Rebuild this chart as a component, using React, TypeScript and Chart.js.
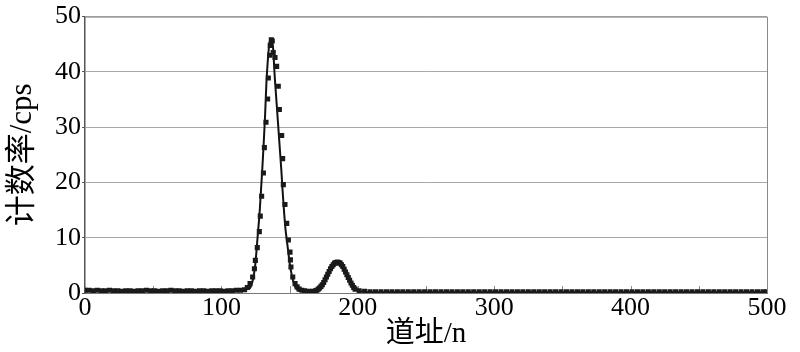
import React, { useEffect, useRef } from 'react';
import { Chart, registerables } from 'chart.js';

Chart.register(...registerables);

// ---- Axis ticks ----
const xTickValues = [0, 100, 200, 300, 400, 500];
const yTickValues = [0, 10, 20, 30, 40, 50];
const xMinorTickValues = [50, 150, 250, 350, 450];

// ---- Fitted curve (solid line) ----
const fitChannels = [0, 30, 60, 90, 110, 116, 119, 121, 122, 123, 124, 125, 126, 127, 128, 129, 130, 131, 132, 133, 134, 135, 136, 137, 138, 139, 140, 141, 142, 143, 144, 145, 146, 147, 148, 149, 150, 151, 152, 153, 154, 155, 156, 158, 161, 165, 169, 172, 174, 176, 178, 180, 182, 184, 186, 188, 190, 192, 194, 196, 198, 200, 204, 210, 250, 350, 500];
const fitCounts = [0.4, 0.4, 0.4, 0.4, 0.4, 0.5, 0.7, 0.9, 1.5, 2.3, 3.6, 5.5, 8.5, 11.5, 14.5, 18.5, 22.5, 27, 32, 38, 42, 44.8, 46, 45.8, 44, 39.5, 36, 32.5, 29, 25.5, 22, 18, 14.5, 11.5, 9.5, 7.5, 5.5, 4, 2.8, 1.9, 1.2, 0.8, 0.5, 0.35, 0.3, 0.3, 0.4, 0.9, 1.5, 2.3, 3.3, 4.3, 5, 5.4, 5.5, 5.2, 4.5, 3.5, 2.5, 1.6, 1, 0.5, 0.25, 0.15, 0.15, 0.15, 0.15];

// ---- Measured counts (square markers) ----
const lowBaseChannels = [0, 3, 6, 9, 12, 15, 18, 21, 24, 27, 30, 33, 36, 39, 42, 45, 48, 51, 54, 57, 60, 63, 66, 69, 72, 75, 78, 81, 84, 87, 90, 93, 96, 99, 102, 105, 108, 111, 114, 117];
const lowBaseCounts = [0.5, 0.5, 0.4, 0.5, 0.4, 0.4, 0.5, 0.4, 0.4, 0.3, 0.4, 0.4, 0.3, 0.4, 0.4, 0.5, 0.4, 0.4, 0.3, 0.4, 0.4, 0.5, 0.4, 0.4, 0.3, 0.4, 0.4, 0.3, 0.4, 0.4, 0.3, 0.4, 0.4, 0.4, 0.3, 0.4, 0.4, 0.5, 0.5, 0.6];

const peakChannels = [119, 121, 122.9, 124.2, 124.9, 126.3, 127.8, 128.5, 129.5, 130.8, 131.5, 132.7, 133.9, 134.4, 135.4, 135.8, 136.6, 137.3, 138, 139.3, 140.5, 141.7, 142.5, 144.2, 144.9, 145.4, 146.6, 147.9, 149.1, 150.3, 150.6, 151, 152.3, 154, 155.5, 157, 159, 161, 164, 167, 169, 170, 171, 172, 173, 174, 175, 176, 177, 178, 179, 180, 181, 182, 183, 184, 185, 186, 187, 188, 189, 190, 191, 192, 193, 194, 195, 196, 197, 198];
const peakCounts = [1.0, 1.7, 2.9, 4.4, 5.9, 8.2, 11.1, 13.9, 17.5, 21.7, 26.3, 30.9, 35.1, 38.9, 43.0, 44.8, 45.8, 45.6, 43.5, 42.6, 41.0, 37.4, 33.2, 28.5, 24.3, 19.6, 16.0, 12.6, 9.6, 7.4, 6.0, 4.7, 2.9, 1.7, 1.1, 0.7, 0.5, 0.4, 0.3, 0.3, 0.4, 0.5, 0.7, 0.9, 1.2, 1.5, 1.9, 2.4, 2.9, 3.4, 3.9, 4.4, 4.8, 5.1, 5.4, 5.5, 5.6, 5.5, 5.4, 5.1, 4.8, 4.3, 3.8, 3.3, 2.8, 2.3, 1.8, 1.4, 1.0, 0.7];

const highBaseChannels = [201, 205, 209, 213, 217, 221, 225, 229, 233, 237, 241, 245, 249, 253, 257, 261, 265, 269, 273, 277, 281, 285, 289, 293, 297, 301, 305, 309, 313, 317, 321, 325, 329, 333, 337, 341, 345, 349, 353, 357, 361, 365, 369, 373, 377, 381, 385, 389, 393, 397, 401, 405, 409, 413, 417, 421, 425, 429, 433, 437, 441, 445, 449, 453, 457, 461, 465, 469, 473, 477, 481, 485, 489, 493, 497, 500];
const highBaseCounts = [0.4, 0.3, 0.2, 0.2, 0.2, 0.2, 0.2, 0.2, 0.2, 0.2, 0.2, 0.2, 0.2, 0.2, 0.2, 0.2, 0.2, 0.2, 0.2, 0.2, 0.2, 0.2, 0.2, 0.2, 0.2, 0.2, 0.2, 0.2, 0.2, 0.2, 0.2, 0.2, 0.2, 0.2, 0.2, 0.2, 0.2, 0.2, 0.2, 0.2, 0.2, 0.2, 0.2, 0.2, 0.2, 0.2, 0.2, 0.2, 0.2, 0.2, 0.2, 0.2, 0.2, 0.2, 0.2, 0.2, 0.2, 0.2, 0.2, 0.2, 0.2, 0.2, 0.2, 0.2, 0.2, 0.2, 0.2, 0.2, 0.2, 0.2, 0.2, 0.2, 0.2, 0.2, 0.2, 0.2];

const xTitle = '道址/n';
const yTitle = '计数率/cps';

const serif = '"Liberation Serif", "Times New Roman", "Noto Sans CJK SC", serif';

const toPoints = (xs: number[], ys: number[]) => xs.map((x, i) => ({ x, y: ys[i] }));

const framePlugin = {
  id: 'frame',
  beforeDatasetsDraw(chart: any) {
    const { ctx, chartArea } = chart;
    const { left, right, top, bottom } = chartArea;
    ctx.save();
    ctx.strokeStyle = '#8a8a8a';
    ctx.lineWidth = 1;
    ctx.beginPath();
    ctx.moveTo(left, top + 0.5);
    ctx.lineTo(right + 0.5, top + 0.5);
    ctx.lineTo(right + 0.5, bottom);
    ctx.stroke();
    // minor inner ticks on the x axis
    const xs = chart.scales.x;
    ctx.strokeStyle = '#888';
    xMinorTickValues.concat(xTickValues).forEach((v) => {
      const px = Math.round(xs.getPixelForValue(v)) + 0.5;
      ctx.beginPath();
      ctx.moveTo(px, bottom);
      ctx.lineTo(px, bottom - 7);
      ctx.stroke();
    });
    ctx.restore();
  },
};

export default function App() {
  const ref = useRef<HTMLCanvasElement | null>(null);

  useEffect(() => {
    document.body.style.margin = '0';
    if (!ref.current) return;
    const chart = new Chart(ref.current, {
      type: 'scatter',
      data: {
        datasets: [
          {
            type: 'line',
            label: 'fit',
            data: toPoints(fitChannels, fitCounts),
            borderColor: '#111',
            borderWidth: 2,
            pointRadius: 0,
            cubicInterpolationMode: 'monotone',
            fill: false,
            order: 2,
          } as any,
          {
            label: 'counts',
            data: [
              ...toPoints(lowBaseChannels, lowBaseCounts),
              ...toPoints(peakChannels, peakCounts),
              ...toPoints(highBaseChannels, highBaseCounts),
            ],
            pointStyle: 'rect',
            pointRadius: 3.6,
            pointBackgroundColor: '#1a1a1a',
            pointBorderWidth: 0,
            borderColor: '#1a1a1a',
            order: 1,
          } as any,
        ],
      },
      options: {
        animation: false,
        responsive: true,
        maintainAspectRatio: false,
        layout: { padding: { top: 13, right: 33, left: 0, bottom: 0 } },
        plugins: { legend: { display: false }, tooltip: { enabled: false } },
        scales: {
          x: {
            type: 'linear',
            min: 0,
            max: 500,
            afterBuildTicks: (s: any) => {
              s.ticks = xTickValues.map((v) => ({ value: v }));
            },
            afterFit: (s: any) => {
              s.height = 59;
            },
            ticks: {
              color: '#000',
              font: { family: serif, size: 26 },
              padding: 0,
              maxRotation: 0,
            },
            grid: { display: false, drawTicks: false },
            border: { display: true, color: '#777', width: 1 },
            title: {
              display: true,
              text: xTitle,
              color: '#000',
              font: { family: serif, size: 29, lineHeight: 1.1 },
              padding: { top: 0, bottom: 2 },
            },
          },
          y: {
            type: 'linear',
            min: 0,
            max: 50,
            afterBuildTicks: (s: any) => {
              s.ticks = yTickValues.map((v) => ({ value: v }));
            },
            afterFit: (s: any) => {
              s.width = 85;
            },
            ticks: {
              color: '#000',
              font: { family: serif, size: 26 },
              padding: 1,
            },
            grid: { color: '#a8a8a8', lineWidth: 1, tickLength: 3, tickColor: '#555' },
            border: { display: true, color: '#555', width: 1.5 },
            title: {
              display: true,
              text: yTitle,
              color: '#000',
              font: { family: serif, size: 31, lineHeight: 1.1 },
              padding: { top: 6, bottom: 0 },
            },
          },
        },
      },
      plugins: [framePlugin],
    });
    return () => chart.destroy();
  }, []);

  return (
    <div style={{ width: 800, height: 352, position: 'relative', background: '#fff' }}>
      <canvas ref={ref} />
    </div>
  );
}
